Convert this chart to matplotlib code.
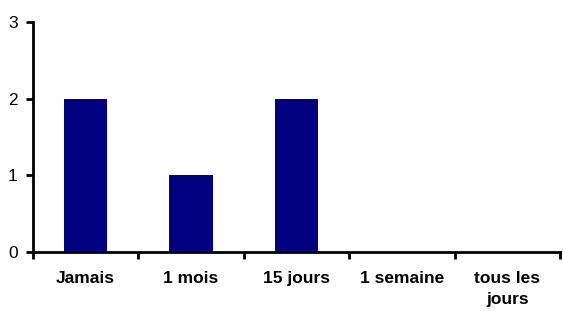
import numpy as np
import matplotlib.pyplot as plt

categories = ["Jamais", "1 mois", "15 jours", "1 semaine", "tous les\njours"]
values = [2, 1, 2, 0, 0]

plt.rcParams['font.family'] = ['Liberation Sans', 'DejaVu Sans']

fig = plt.figure(figsize=(5.63, 3.11), dpi=100)
ax = fig.add_axes([33 / 563, 59 / 311, 527 / 563, 230 / 311])

x = np.arange(len(categories))
ax.bar(x, values, width=0.41, color='#000080')

ax.set_xlim(-0.5, len(categories) - 0.5)
ax.set_ylim(0, 3)
ax.set_yticks([0, 1, 2, 3])

ax.set_xticks(x)
ax.set_xticklabels(categories, fontweight='bold', fontsize=12.5, linespacing=1.5)
ax.set_xticks(np.arange(len(categories) + 1) - 0.5, minor=True)
ax.tick_params(axis='x', which='major', length=0, pad=14)
ax.tick_params(axis='x', which='minor', length=5, width=2, direction='out')
ax.tick_params(axis='y', length=5, width=2, labelsize=12.5, pad=6)

for side in ['top', 'right']:
    ax.spines[side].set_visible(False)
for side in ['left', 'bottom']:
    ax.spines[side].set_linewidth(2)

fig.savefig('out.png', dpi=100)
